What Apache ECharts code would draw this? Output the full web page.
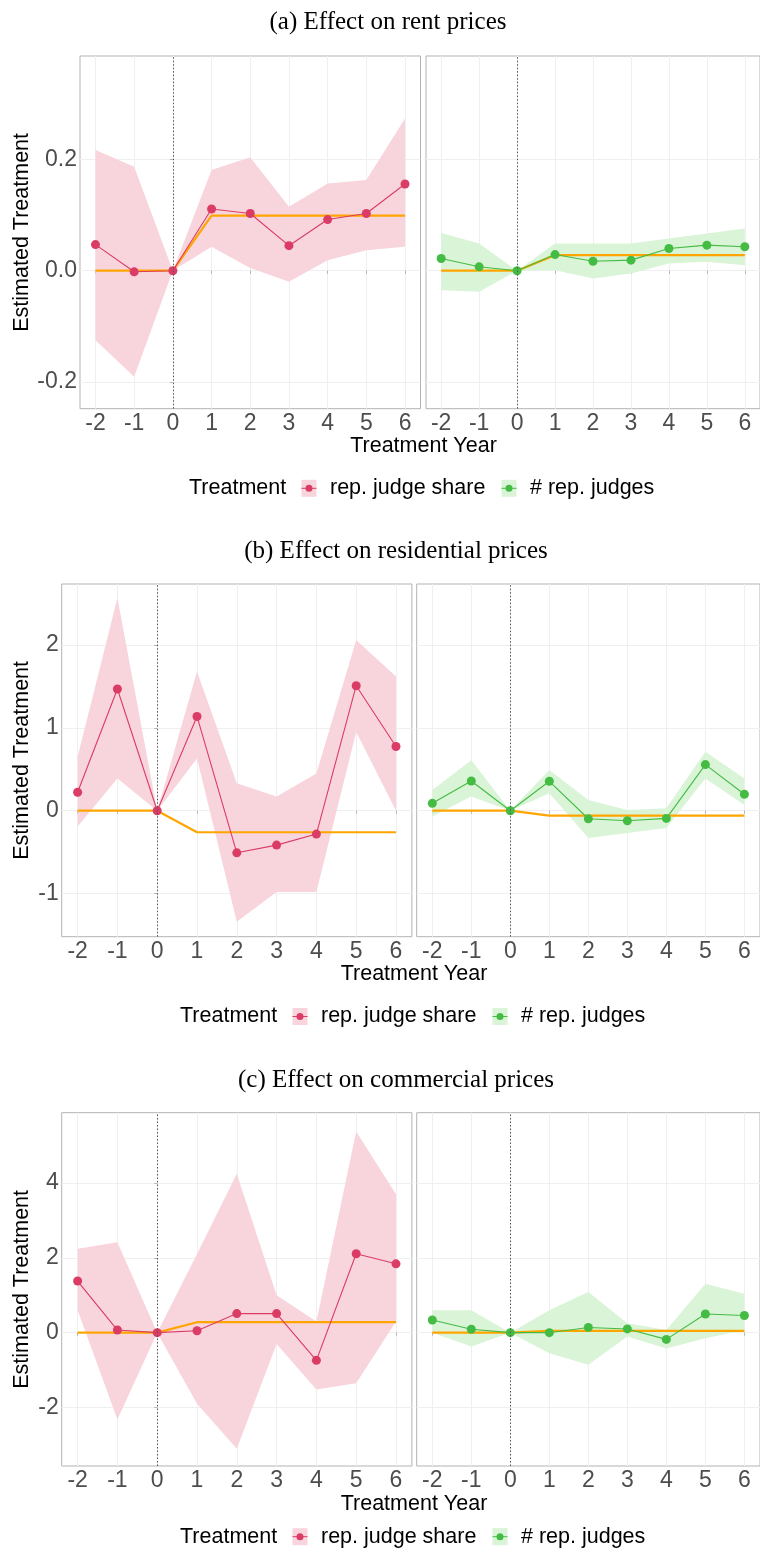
<!DOCTYPE html>
<html>
<head>
<meta charset="utf-8">
<script src="https://cdn.jsdelivr.net/npm/echarts@6/dist/echarts.min.js"></script>
<style>html,body{margin:0;padding:0;background:#fff}#chart{width:760px;height:1558px}</style>
</head>
<body>
<div id="chart"></div>
<script>
// ---------- data ----------
const years = [-2, -1, 0, 1, 2, 3, 4, 5, 6];

const rentShareEst = [0.047, -0.002, 0, 0.111, 0.103, 0.045, 0.092, 0.103, 0.156];
const rentShareLo  = [-0.125, -0.191, 0, 0.043, 0.005, -0.020, 0.019, 0.037, 0.043];
const rentShareHi  = [0.217, 0.187, 0, 0.181, 0.204, 0.115, 0.157, 0.163, 0.274];
const rentShareFit = [0, 0, 0, 0.099, 0.099, 0.099, 0.099, 0.099, 0.099];

const rentNumEst = [0.022, 0.007, 0, 0.029, 0.017, 0.019, 0.040, 0.046, 0.043];
const rentNumLo  = [-0.035, -0.038, 0, 0.001, -0.014, -0.005, 0.013, 0.016, 0.010];
const rentNumHi  = [0.068, 0.049, 0, 0.049, 0.049, 0.049, 0.058, 0.067, 0.076];
const rentNumFit = [0, 0, 0, 0.028, 0.028, 0.028, 0.028, 0.028, 0.028];

const resShareEst = [0.222, 1.468, 0, 1.137, -0.508, -0.415, -0.282, 1.508, 0.774];
const resShareLo  = [-0.19, 0.39, 0, 0.63, -1.34, -0.98, -0.98, 0.95, 0.0];
const resShareHi  = [0.65, 2.57, 0, 1.68, 0.33, 0.17, 0.45, 2.06, 1.62];
const resShareFit = [0, 0, 0, -0.26, -0.26, -0.26, -0.26, -0.26, -0.26];

const resNumEst = [0.089, 0.359, 0, 0.355, -0.097, -0.121, -0.093, 0.556, 0.198];
const resNumLo  = [-0.07, 0.17, 0, 0.21, -0.33, -0.27, -0.21, 0.39, 0.07];
const resNumHi  = [0.25, 0.61, 0, 0.49, 0.13, 0.01, 0.03, 0.71, 0.39];
const resNumFit = [0, 0, 0, -0.06, -0.06, -0.06, -0.06, -0.06, -0.06];

const comShareEst = [1.38, 0.07, 0, 0.05, 0.51, 0.51, -0.74, 2.11, 1.84];
const comShareLo  = [0.6, -2.32, 0, -1.9, -3.1, -0.3, -1.52, -1.35, 0.3];
const comShareHi  = [2.24, 2.42, 0, 2.1, 4.25, 1.0, 0.3, 5.38, 3.7];
const comShareFit = [0, 0, 0, 0.28, 0.28, 0.28, 0.28, 0.28, 0.28];

const comNumEst = [0.34, 0.09, 0, 0.0, 0.14, 0.10, -0.18, 0.50, 0.46];
const comNumLo  = [0.0, -0.37, 0, -0.55, -0.86, -0.1, -0.42, -0.15, 0.07];
const comNumHi  = [0.6, 0.6, 0, 0.6, 1.09, 0.25, 0.07, 1.31, 1.04];
const comNumFit = [0, 0, 0, 0.05, 0.05, 0.05, 0.05, 0.05, 0.05];

const rentTicks = [-0.2, 0.0, 0.2];
const resTicks = [-1, 0, 1, 2];
const comTicks = [-2, 0, 2, 4];

const titles = ['(a) Effect on rent prices', '(b) Effect on residential prices', '(c) Effect on commercial prices'];
const legendTitle = 'Treatment';
const seriesNames = ['rep. judge share', '# rep. judges'];
const xTitle = 'Treatment Year';
const yTitle = 'Estimated Treatment';

// ---------- styles / layout ----------
const RED = '#DA3C65', RED_FILL = '#F8D5DC';
const GREEN = '#44BC44', GREEN_FILL = '#DAF4D7';
const ORANGE = '#FFA500';
const SANS = '"Liberation Sans", Arial, sans-serif';
const SERIF = '"Liberation Serif", "Times New Roman", serif';

const rows = [
  {top: 56, height: 352.7, lefts: [80, 426], width: 340.5, yMin: -0.2483, yMax: 0.3863, ticks: rentTicks, fmt: v => v.toFixed(1),
   titleX: 388, titleY: 22, xTitleY: 446, legY: 488.3, legX: [189, 309, 330, 509, 530], xCenter: 423.5,
   data: [[rentShareEst, rentShareLo, rentShareHi, rentShareFit], [rentNumEst, rentNumLo, rentNumHi, rentNumFit]]},
  {top: 584, height: 352.7, lefts: [61.7, 416.7], width: 350.2, yMin: -1.52, yMax: 2.735, ticks: resTicks, fmt: v => String(v),
   titleX: 396, titleY: 551, xTitleY: 974.5, legY: 1016.5, legX: [180, 300, 321, 500, 521], xCenter: 414,
   data: [[resShareEst, resShareLo, resShareHi, resShareFit], [resNumEst, resNumLo, resNumHi, resNumFit]]},
  {top: 1112.7, height: 353.3, lefts: [61.7, 416.7], width: 350.2, yMin: -3.564, yMax: 5.88, ticks: comTicks, fmt: v => String(v),
   titleX: 396, titleY: 1080, xTitleY: 1504, legY: 1536.7, legX: [180, 300, 321, 500, 521], xCenter: 414,
   data: [[comShareEst, comShareLo, comShareHi, comShareFit], [comNumEst, comNumLo, comNumHi, comNumFit]]}
];

const pairs = vals => years.map((x, i) => [x, vals[i]]);

function bandSeries(gi, lo, hi, fill) {
  const band = years.map((x, i) => [x, lo[i], hi[i]]);
  return {
    type: 'custom', xAxisIndex: gi, yAxisIndex: gi, data: band, encode: {x: 0, y: [1, 2]},
    silent: true, z: 1, clip: true,
    renderItem: function (params, api) {
      if (params.dataIndex !== 0) return null;
      const upper = band.map(d => api.coord([d[0], d[2]]));
      const lower = band.map(d => api.coord([d[0], d[1]])).reverse();
      return {type: 'polygon', shape: {points: upper.concat(lower)}, style: {fill: fill, stroke: null}};
    }
  };
}

const grid = [], xAxis = [], yAxis = [], series = [], graphic = [];
let gi = 0;
rows.forEach((r, ri) => {
  [0, 1].forEach(col => {
    const showY = col === 0;
    grid.push({left: r.lefts[col], top: r.top, width: r.width, height: r.height, show: true,
      borderColor: '#B3B3B3', borderWidth: 1, backgroundColor: 'transparent', containLabel: false});
    xAxis.push({gridIndex: gi, type: 'value', min: -2.4, max: 6.4,
      axisLine: {show: false},
      axisTick: {show: true, length: 3, customValues: years, lineStyle: {color: '#B3B3B3', width: 1}},
      axisLabel: {show: true, customValues: years, fontSize: 23, fontFamily: SANS, color: '#4D4D4D', margin: 3},
      splitLine: {show: true, lineStyle: {color: '#EFEFEF', width: 1}}});
    yAxis.push({gridIndex: gi, type: 'value', min: r.yMin, max: r.yMax,
      axisLine: {show: false},
      axisTick: {show: showY, length: 3, customValues: r.ticks, lineStyle: {color: '#B3B3B3', width: 1}},
      axisLabel: {show: showY, customValues: r.ticks, formatter: r.fmt, fontSize: 23, fontFamily: SANS, color: '#4D4D4D', margin: 3},
      splitLine: {show: true, lineStyle: {color: '#EFEFEF', width: 1}}});
    const [est, lo, hi, fit] = r.data[col];
    const c = col === 0 ? RED : GREEN;
    const fill = col === 0 ? RED_FILL : GREEN_FILL;
    series.push(bandSeries(gi, lo, hi, fill));
    series.push({type: 'line', name: seriesNames[col], xAxisIndex: gi, yAxisIndex: gi, data: pairs(fit),
      symbol: 'none', lineStyle: {color: ORANGE, width: 2.2}, silent: true, z: 3});
    series.push({type: 'line', name: seriesNames[col], xAxisIndex: gi, yAxisIndex: gi, data: pairs(est),
      symbol: 'circle', symbolSize: 9, itemStyle: {color: c}, lineStyle: {color: c, width: 1.1}, silent: true, z: 4,
      markLine: {silent: true, symbol: ['none', 'none'], label: {show: false},
        lineStyle: {color: '#555555', type: [1.5, 2], width: 1}, data: [{xAxis: 0}]}});
    gi++;
  });
  graphic.push({type: 'text', x: r.titleX, y: r.titleY, style: {text: titles[ri], font: '25px ' + SERIF, fill: '#000',
    textAlign: 'center', textVerticalAlign: 'middle'}});
  graphic.push({type: 'text', x: 22.5, y: r.top + r.height / 2, rotation: Math.PI / 2,
    style: {text: yTitle, font: '21.5px ' + SANS, fill: '#000', textAlign: 'center', textVerticalAlign: 'middle'}});
  graphic.push({type: 'text', x: r.xCenter, y: r.xTitleY, style: {text: xTitle, font: '21.5px ' + SANS, fill: '#000',
    textAlign: 'center', textVerticalAlign: 'middle'}});
  graphic.push({type: 'text', x: r.legX[0], y: r.legY, style: {text: legendTitle, font: '21.5px ' + SANS, fill: '#000',
    textAlign: 'left', textVerticalAlign: 'middle'}});
  [[r.legX[1], r.legX[2], RED, RED_FILL, seriesNames[0]], [r.legX[3], r.legX[4], GREEN, GREEN_FILL, seriesNames[1]]].forEach(k => {
    const [kx, tx, c, f, name] = k;
    graphic.push({type: 'rect', shape: {x: kx - 7.5, y: r.legY - 8.5, width: 15, height: 17}, style: {fill: f}});
    graphic.push({type: 'line', shape: {x1: kx - 7.5, y1: r.legY, x2: kx + 7.5, y2: r.legY}, style: {stroke: c, lineWidth: 1}});
    graphic.push({type: 'circle', shape: {cx: kx, cy: r.legY, r: 3.5}, style: {fill: c}});
    graphic.push({type: 'text', x: tx, y: r.legY, style: {text: name, font: '21.5px ' + SANS, fill: '#000',
      textAlign: 'left', textVerticalAlign: 'middle'}});
  });
});

const chart = echarts.init(document.getElementById('chart'), null, {renderer: 'canvas'});
chart.setOption({animation: false, backgroundColor: '#fff', grid, xAxis, yAxis, series, graphic});
</script>
</body>
</html>
